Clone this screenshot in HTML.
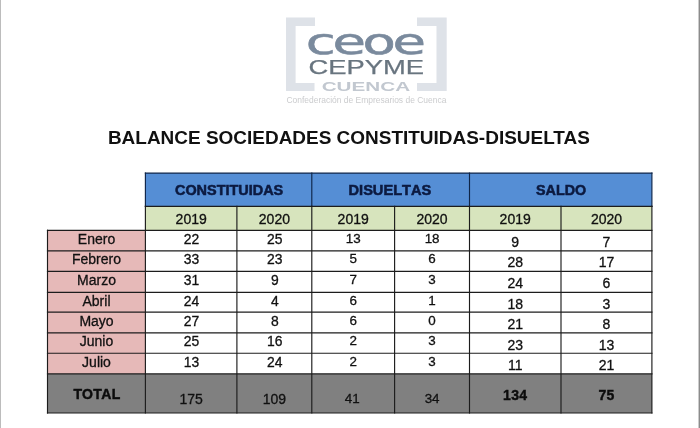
<!DOCTYPE html>
<html lang="es"><head><meta charset="utf-8"><title>Balance sociedades constituidas-disueltas</title>
<style>html,body{margin:0;padding:0;background:#fff}body{width:700px;height:428px;overflow:hidden}svg{display:block}text{font-family:"Liberation Sans",sans-serif}</style>
</head><body>
<svg width="700" height="428" viewBox="0 0 700 428">
<rect x="0" y="0" width="700" height="428" fill="#ffffff"/>
<rect x="0" y="0" width="1" height="428" fill="#bcbcbc"/>
<rect x="699" y="0" width="1" height="428" fill="#8c8c8c"/><rect x="698" y="0" width="1" height="428" fill="#cccccc"/>
<defs><filter id="soft" x="-5%" y="-5%" width="110%" height="110%"><feGaussianBlur stdDeviation="0.45"/></filter></defs>
<g id="logo" filter="url(#soft)">
<path d="M286 17.4H315V26H295.6V83H314.5V91H286Z" fill="#dee2e8"/>
<path d="M446.7 17.4H417V26H436.5V83H417V91H446.7Z" fill="#dee2e8"/>
<text id="ceoe" transform="translate(364.2 53.6) scale(1.53 1)" x="0" y="0" text-anchor="middle" font-size="35.6" letter-spacing="-2.2" fill="#7a8a9d" stroke="#7a8a9d" stroke-width="0.5" style="font-family:'DejaVu Sans','Liberation Sans',sans-serif">ceoe</text>
<text id="cepyme" x="366.2" y="73.7" text-anchor="middle" font-size="20.3" fill="#68747f" stroke="#68747f" stroke-width="0.25" textLength="115.5" lengthAdjust="spacingAndGlyphs">CEPYME</text>
<text id="cuenca" x="365.9" y="90.8" text-anchor="middle" font-size="12.8" font-weight="bold" fill="#c2c8d0" textLength="88.5" lengthAdjust="spacingAndGlyphs">CUENCA</text>
<text id="tag" x="366.4" y="103" text-anchor="middle" font-size="9.8" fill="#cbccce" textLength="160" lengthAdjust="spacingAndGlyphs">Confederación de Empresarios de Cuenca</text>
</g>
<text id="title" x="348.9" y="143.6" text-anchor="middle" font-size="18" font-weight="bold" fill="#111111" textLength="482" lengthAdjust="spacingAndGlyphs">BALANCE SOCIEDADES CONSTITUIDAS-DISUELTAS</text>
<rect x="145.4" y="173.1" width="506.5" height="33.20000000000002" fill="#558ed5"/>
<rect x="145.4" y="206.3" width="506.5" height="24.0" fill="#d7e4bd"/>
<rect x="47.5" y="230.3" width="97.9" height="143.59999999999997" fill="#e6b9b8"/>
<rect x="47.5" y="373.9" width="604.4" height="39.10000000000002" fill="#808080"/>
<g stroke="#0e2548" stroke-width="1.15" fill="none" stroke-linecap="square">
<path d="M145.4 173.1H651.9"/>
<path d="M145.4 173.1V206.3"/>
<path d="M311.8 173.1V206.3"/>
<path d="M469.5 173.1V206.3"/>
<path d="M651.9 173.1V206.3"/>
</g>
<g stroke="#1c1c1c" stroke-width="1.15" fill="none" stroke-linecap="square">
<path d="M145.4 206.3H651.9"/>
<path d="M47.5 230.3H651.9"/>
<path d="M47.5 250.8H651.9"/>
<path d="M47.5 271.4H651.9"/>
<path d="M47.5 292.3H651.9"/>
<path d="M47.5 312.1H651.9"/>
<path d="M47.5 332.9H651.9"/>
<path d="M47.5 353.2H651.9"/>
<path d="M47.5 373.9H651.9"/>
<path d="M47.5 413.0H651.9"/>
<path d="M47.5 230.3V413.0"/>
<path d="M145.4 206.3V413.0"/>
<path d="M236.9 206.3V413.0"/>
<path d="M311.8 206.3V413.0"/>
<path d="M394.6 206.3V413.0"/>
<path d="M469.5 206.3V413.0"/>
<path d="M561.0 206.3V413.0"/>
<path d="M651.9 206.3V413.0"/>
</g>
<text class="hd" style="font-kerning:none" x="229.1" y="195.1" text-anchor="middle" font-size="14.45" font-weight="bold" fill="#0c1a40" stroke="#0c1a40" stroke-width="0.55">CONSTITUIDAS</text>
<text class="hd" style="font-kerning:none" x="389.9" y="195.1" text-anchor="middle" font-size="14.6" font-weight="bold" fill="#0c1a40" stroke="#0c1a40" stroke-width="0.55">DISUELTAS</text>
<text class="hd" style="font-kerning:none" x="561.1" y="195.1" text-anchor="middle" font-size="14.3" font-weight="bold" fill="#0c1a40" stroke="#0c1a40" stroke-width="0.55">SALDO</text>
<text x="191.2" y="223.6" text-anchor="middle" font-size="14" fill="#111" stroke="#111" stroke-width="0.3">2019</text>
<text x="274.4" y="223.6" text-anchor="middle" font-size="14" fill="#111" stroke="#111" stroke-width="0.3">2020</text>
<text x="353.2" y="223.6" text-anchor="middle" font-size="14" fill="#111" stroke="#111" stroke-width="0.3">2019</text>
<text x="432.1" y="223.6" text-anchor="middle" font-size="14" fill="#111" stroke="#111" stroke-width="0.3">2020</text>
<text x="515.2" y="223.6" text-anchor="middle" font-size="14" fill="#111" stroke="#111" stroke-width="0.3">2019</text>
<text x="606.5" y="223.6" text-anchor="middle" font-size="14" fill="#111" stroke="#111" stroke-width="0.3">2020</text>
<text x="96.5" y="244" text-anchor="middle" font-size="14" fill="#111" stroke="#111" stroke-width="0.3">Enero</text>
<text x="191.6" y="244" text-anchor="middle" font-size="13.9" fill="#111" stroke="#111" stroke-width="0.3">22</text>
<text x="274.8" y="244" text-anchor="middle" font-size="13.9" fill="#111" stroke="#111" stroke-width="0.3">25</text>
<text x="353.2" y="243.4" text-anchor="middle" font-size="13.4" fill="#111" stroke="#111" stroke-width="0.3">13</text>
<text x="432.1" y="243.4" text-anchor="middle" font-size="13.4" fill="#111" stroke="#111" stroke-width="0.3">18</text>
<text x="515.2" y="247" text-anchor="middle" font-size="14" fill="#111" stroke="#111" stroke-width="0.3">9</text>
<text x="606.5" y="247" text-anchor="middle" font-size="14" fill="#111" stroke="#111" stroke-width="0.3">7</text>
<text x="96.5" y="264" text-anchor="middle" font-size="14" fill="#111" stroke="#111" stroke-width="0.3">Febrero</text>
<text x="191.6" y="264" text-anchor="middle" font-size="13.9" fill="#111" stroke="#111" stroke-width="0.3">33</text>
<text x="274.8" y="264" text-anchor="middle" font-size="13.9" fill="#111" stroke="#111" stroke-width="0.3">23</text>
<text x="353.2" y="263.4" text-anchor="middle" font-size="13.4" fill="#111" stroke="#111" stroke-width="0.3">5</text>
<text x="432.1" y="263.4" text-anchor="middle" font-size="13.4" fill="#111" stroke="#111" stroke-width="0.3">6</text>
<text x="515.2" y="267" text-anchor="middle" font-size="14" fill="#111" stroke="#111" stroke-width="0.3">28</text>
<text x="606.5" y="267" text-anchor="middle" font-size="14" fill="#111" stroke="#111" stroke-width="0.3">17</text>
<text x="96.5" y="285" text-anchor="middle" font-size="14" fill="#111" stroke="#111" stroke-width="0.3">Marzo</text>
<text x="191.6" y="285" text-anchor="middle" font-size="13.9" fill="#111" stroke="#111" stroke-width="0.3">31</text>
<text x="274.8" y="285" text-anchor="middle" font-size="13.9" fill="#111" stroke="#111" stroke-width="0.3">9</text>
<text x="353.2" y="284.4" text-anchor="middle" font-size="13.4" fill="#111" stroke="#111" stroke-width="0.3">7</text>
<text x="432.1" y="284.4" text-anchor="middle" font-size="13.4" fill="#111" stroke="#111" stroke-width="0.3">3</text>
<text x="515.2" y="288" text-anchor="middle" font-size="14" fill="#111" stroke="#111" stroke-width="0.3">24</text>
<text x="606.5" y="288" text-anchor="middle" font-size="14" fill="#111" stroke="#111" stroke-width="0.3">6</text>
<text x="96.5" y="306" text-anchor="middle" font-size="14" fill="#111" stroke="#111" stroke-width="0.3">Abril</text>
<text x="191.6" y="306" text-anchor="middle" font-size="13.9" fill="#111" stroke="#111" stroke-width="0.3">24</text>
<text x="274.8" y="306" text-anchor="middle" font-size="13.9" fill="#111" stroke="#111" stroke-width="0.3">4</text>
<text x="353.2" y="305.4" text-anchor="middle" font-size="13.4" fill="#111" stroke="#111" stroke-width="0.3">6</text>
<text x="432.1" y="305.4" text-anchor="middle" font-size="13.4" fill="#111" stroke="#111" stroke-width="0.3">1</text>
<text x="515.2" y="309" text-anchor="middle" font-size="14" fill="#111" stroke="#111" stroke-width="0.3">18</text>
<text x="606.5" y="309" text-anchor="middle" font-size="14" fill="#111" stroke="#111" stroke-width="0.3">3</text>
<text x="96.5" y="326" text-anchor="middle" font-size="14" fill="#111" stroke="#111" stroke-width="0.3">Mayo</text>
<text x="191.6" y="326" text-anchor="middle" font-size="13.9" fill="#111" stroke="#111" stroke-width="0.3">27</text>
<text x="274.8" y="326" text-anchor="middle" font-size="13.9" fill="#111" stroke="#111" stroke-width="0.3">8</text>
<text x="353.2" y="325.4" text-anchor="middle" font-size="13.4" fill="#111" stroke="#111" stroke-width="0.3">6</text>
<text x="432.1" y="325.4" text-anchor="middle" font-size="13.4" fill="#111" stroke="#111" stroke-width="0.3">0</text>
<text x="515.2" y="329" text-anchor="middle" font-size="14" fill="#111" stroke="#111" stroke-width="0.3">21</text>
<text x="606.5" y="329" text-anchor="middle" font-size="14" fill="#111" stroke="#111" stroke-width="0.3">8</text>
<text x="96.5" y="346" text-anchor="middle" font-size="14" fill="#111" stroke="#111" stroke-width="0.3">Junio</text>
<text x="191.6" y="346" text-anchor="middle" font-size="13.9" fill="#111" stroke="#111" stroke-width="0.3">25</text>
<text x="274.8" y="346" text-anchor="middle" font-size="13.9" fill="#111" stroke="#111" stroke-width="0.3">16</text>
<text x="353.2" y="345.4" text-anchor="middle" font-size="13.4" fill="#111" stroke="#111" stroke-width="0.3">2</text>
<text x="432.1" y="345.4" text-anchor="middle" font-size="13.4" fill="#111" stroke="#111" stroke-width="0.3">3</text>
<text x="515.2" y="350" text-anchor="middle" font-size="14" fill="#111" stroke="#111" stroke-width="0.3">23</text>
<text x="606.5" y="350" text-anchor="middle" font-size="14" fill="#111" stroke="#111" stroke-width="0.3">13</text>
<text x="96.5" y="367" text-anchor="middle" font-size="14" fill="#111" stroke="#111" stroke-width="0.3">Julio</text>
<text x="191.6" y="367" text-anchor="middle" font-size="13.9" fill="#111" stroke="#111" stroke-width="0.3">13</text>
<text x="274.8" y="367" text-anchor="middle" font-size="13.9" fill="#111" stroke="#111" stroke-width="0.3">24</text>
<text x="353.2" y="366.4" text-anchor="middle" font-size="13.4" fill="#111" stroke="#111" stroke-width="0.3">2</text>
<text x="432.1" y="366.4" text-anchor="middle" font-size="13.4" fill="#111" stroke="#111" stroke-width="0.3">3</text>
<text x="515.2" y="370" text-anchor="middle" font-size="14" fill="#111" stroke="#111" stroke-width="0.3">11</text>
<text x="606.5" y="370" text-anchor="middle" font-size="14" fill="#111" stroke="#111" stroke-width="0.3">21</text>
<text x="97.0" y="399.4" text-anchor="middle" font-size="14" font-weight="bold" fill="#0c0c0c" stroke="#0c0c0c" stroke-width="0.45" letter-spacing="0.35">TOTAL</text>
<text x="191.2" y="403.5" text-anchor="middle" font-size="14" fill="#111" stroke="#111" stroke-width="0.3">175</text>
<text x="274.4" y="403.5" text-anchor="middle" font-size="14" fill="#111" stroke="#111" stroke-width="0.3">109</text>
<text x="352.3" y="402.7" text-anchor="middle" font-size="13.4" fill="#111" stroke="#111" stroke-width="0.3">41</text>
<text x="432.1" y="402.7" text-anchor="middle" font-size="13.4" fill="#111" stroke="#111" stroke-width="0.3">34</text>
<text x="515.2" y="399.8" text-anchor="middle" font-size="14" font-weight="bold" fill="#0c0c0c" stroke="#0c0c0c" stroke-width="0.4" letter-spacing="0.3">134</text>
<text x="606.5" y="399.8" text-anchor="middle" font-size="14" font-weight="bold" fill="#0c0c0c" stroke="#0c0c0c" stroke-width="0.4" letter-spacing="0.3">75</text>
</svg>
</body></html>
